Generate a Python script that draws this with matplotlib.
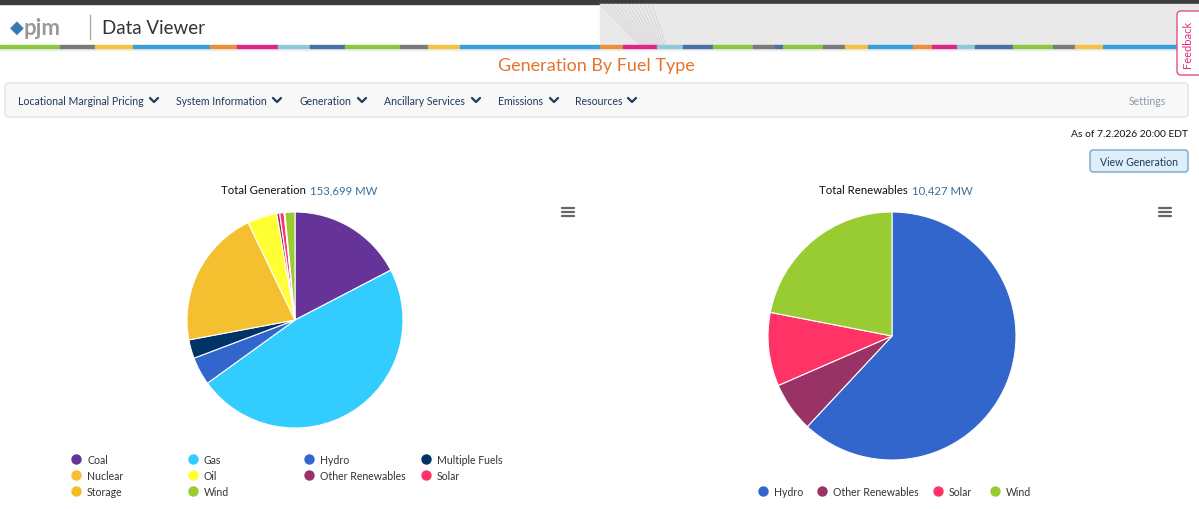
import matplotlib
matplotlib.use("Agg")
import matplotlib.pyplot as plt
from matplotlib.patches import Rectangle, FancyBboxPatch

plt.rcParams['font.family'] = ['Lato', 'DejaVu Sans']

# ---------------- data ----------------
fuel_types = ["Coal", "Gas", "Hydro", "Multiple Fuels", "Nuclear", "Oil",
              "Other Renewables", "Solar", "Storage", "Wind"]
fuel_mw = [26700, 73300, 6465, 4300, 32000, 6800, 680, 1000, 200, 2290]
fuel_colors = ["#663399", "#33ccff", "#3366cc", "#003366", "#f4c030", "#ffff33",
               "#993366", "#ff3366", "#f0c020", "#99cc33"]

renew_types = ["Hydro", "Other Renewables", "Solar", "Wind"]
renew_mw = [6465, 680, 1000, 2290]
renew_colors = ["#3366cc", "#993366", "#ff3366", "#99cc33"]

total_gen_label = "153,699 MW"
total_renew_label = "10,427 MW"
nav_items = ["Locational Marginal Pricing", "System Information", "Generation",
             "Ancillary Services", "Emissions", "Resources"]

W, H = 1199, 510
fig = plt.figure(figsize=(W / 100, H / 100), dpi=100)
bg = fig.add_axes([0, 0, 1, 1])
bg.set_xlim(0, W)
bg.set_ylim(H, 0)
bg.axis('off')

DY = 0.8  # text baseline correction

# ---------------- header ----------------
bg.add_patch(Rectangle((0, 0), W, 5, color="#3c3c3c", zorder=1))
bg.add_patch(Rectangle((600, 5), W - 600, 41, color="#e9e9e9", zorder=1))
for i in range(14):
    bg.plot([600 + i * 4, 640 + i * 2], [5, 46], color="#d0d0d0", lw=0.5, zorder=2)
stripe = [(0, 60, "#8dc63f"), (60, 95, "#7a7a7a"), (95, 133, "#f5c342"),
          (133, 210, "#3aa0d8"), (210, 237, "#e8913a"), (237, 278, "#e0258a"),
          (278, 310, "#8fc9d9"), (310, 345, "#4a6fa5"), (345, 400, "#8dc63f"),
          (400, 428, "#7a7a7a"), (428, 460, "#f5c342"), (460, 600, "#3aa0d8"),
          (600, 623, "#e8913a"), (623, 657, "#e0258a"), (657, 683, "#8fc9d9"),
          (683, 713, "#4a6fa5"), (713, 753, "#8dc63f"), (753, 775, "#7a7a7a"),
          (775, 783, "#4a6fa5"), (783, 823, "#8dc63f"), (823, 845, "#7a7a7a"),
          (845, 868, "#f5c342"), (868, 913, "#3aa0d8"), (913, 932, "#e8913a"),
          (932, 957, "#e0258a"), (957, 975, "#8fc9d9"), (975, 1013, "#4a6fa5"),
          (1013, 1053, "#8dc63f"), (1053, 1075, "#7a7a7a"), (1075, 1103, "#f5c342"),
          (1103, 1199, "#3aa0d8")]
for x0, x1, c in stripe:
    bg.add_patch(Rectangle((x0, 46), x1 - x0, 2.5, color=c, zorder=3))
bg.add_patch(Rectangle((0, 48.5), W, 2, color="#eeeeee", zorder=2))

bg.text(10, 28, "\u25C6", color="#3a78b5", fontsize=13, va="center", ha="left", zorder=4)
bg.text(24, 28 + DY, "pjm", color="#9a9a9a", fontsize=16, va="center", ha="left",
        fontweight="bold", zorder=4)
bg.plot([90, 90], [16, 40], color="#aaaaaa", lw=1, zorder=4)
bg.text(102, 28 + DY, "Data Viewer", color="#333333", fontsize=13.5, va="center",
        ha="left", zorder=4)

# feedback tab
bg.add_patch(FancyBboxPatch((1177, 12), 30, 64, boxstyle="round,pad=0,rounding_size=4",
                            facecolor="white", edgecolor="#e0508a", lw=1, zorder=5))
bg.text(1188, 44, "Feedback", color="#e0307a", fontsize=8, rotation=90,
        va="center", ha="center", zorder=6)

# page title
bg.text(596, 65 + DY, "Generation By Fuel Type", color="#e2752e", fontsize=13,
        va="center", ha="center")

# nav bar
bg.add_patch(FancyBboxPatch((5, 84), 1183, 34, boxstyle="round,pad=0,rounding_size=4",
                            facecolor="#f8f8f8", edgecolor="#dddddd", lw=0.8))
nav_x = [18, 176, 299, 384, 498, 575]
nav_chev = [154, 277, 362, 476, 554, 632]
for t, x, cx in zip(nav_items, nav_x, nav_chev):
    bg.text(x, 101 + DY, t, color="#1e3a5c", fontsize=7.6, va="center", ha="left")
    bg.plot([cx - 4, cx, cx + 4], [99, 103, 99], color="#1e3a5c", lw=1.6,
            solid_capstyle="round", solid_joinstyle="round")
bg.text(1166, 101 + DY, "Settings", color="#8a9aab", fontsize=7.6, va="center", ha="right")

bg.text(1188, 134 + DY, "As of 7.2.2026 20:00 EDT", color="#111111", fontsize=7.4,
        va="center", ha="right")
bg.add_patch(FancyBboxPatch((1090, 151), 98, 22, boxstyle="round,pad=0,rounding_size=3",
                            facecolor="#deeffa", edgecolor="#6a9cc4", lw=0.9))
bg.text(1139, 162 + DY, "View Generation", color="#1e3a5c", fontsize=7.6,
        va="center", ha="center")

# hamburger icons
for hx in (568, 1165):
    for dy in (-4, 0, 4):
        bg.plot([hx - 6, hx + 6], [213 + dy, 213 + dy], color="#666666", lw=1.6,
                solid_capstyle="round")

# chart titles
bg.text(306, 190 + DY, "Total Generation", color="#111111", fontsize=8.2,
        va="center", ha="right")
bg.text(310, 190 + DY, total_gen_label, color="#3d6f99", fontsize=8.2,
        va="center", ha="left")
bg.text(908, 190 + DY, "Total Renewables", color="#111111", fontsize=8.2,
        va="center", ha="right")
bg.text(912, 190 + DY, total_renew_label, color="#3d6f99", fontsize=8.2,
        va="center", ha="left")


# ---------------- pies ----------------
def pie_axes(cx, cy, r):
    ax = fig.add_axes([(cx - r) / W, 1 - (cy + r) / H, 2 * r / W, 2 * r / H])
    ax.set_xlim(-1, 1)
    ax.set_ylim(-1, 1)
    ax.axis('off')
    return ax


ax1 = pie_axes(295, 321, 108)
ax1.pie(fuel_mw, colors=fuel_colors, startangle=90, counterclock=False, radius=1,
        wedgeprops=dict(edgecolor="white", linewidth=0.8))
ax1.set_xlim(-1, 1)
ax1.set_ylim(-1, 1)

ax2 = pie_axes(892, 337, 124)
ax2.pie(renew_mw, colors=renew_colors, startangle=90, counterclock=False, radius=1,
        wedgeprops=dict(edgecolor="white", linewidth=0.8))
ax2.set_xlim(-1, 1)
ax2.set_ylim(-1, 1)

# ---------------- legends ----------------
col_x = [76, 193, 309, 426]
row_y = [460, 476, 492]
for i, (name, c) in enumerate(zip(fuel_types, fuel_colors)):
    r, k = divmod(i, 4)
    bg.scatter([col_x[k]], [row_y[r]], s=42, color=c, zorder=5)
    bg.text(col_x[k] + 11, row_y[r] + DY, name, color="#333333", fontsize=7.6,
            va="center", ha="left")

leg2_x = [763, 822, 938, 995]
for name, c, x in zip(renew_types, renew_colors, leg2_x):
    bg.scatter([x], [492], s=42, color=c, zorder=5)
    bg.text(x + 11, 492 + DY, name, color="#333333", fontsize=7.6, va="center", ha="left")

fig.savefig("out.png", dpi=100)
